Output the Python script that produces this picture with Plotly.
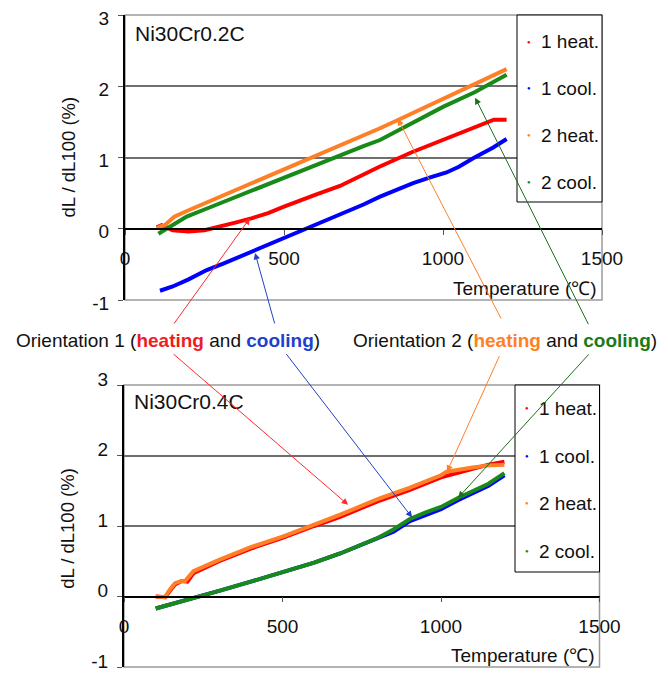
import plotly.graph_objects as go

# ---------------- data ----------------
# Ni30Cr0.2C (top)
top_h1_T = [100, 115, 150, 200, 250, 300, 350, 400, 450, 500, 550, 600, 676, 750, 800, 900, 1000, 1064, 1100, 1160, 1200]
top_h1_v = [0.02, 0.05, -0.02, -0.04, -0.02, 0.03, 0.09, 0.15, 0.22, 0.31, 0.40, 0.48, 0.60, 0.76, 0.87, 1.07, 1.25, 1.36, 1.43, 1.53, 1.53]
top_c1_T = [110, 150, 200, 257, 309, 362, 414, 466, 519, 550, 600, 676, 750, 802, 850, 906, 960, 1011, 1050, 1095, 1158, 1200]
top_c1_v = [-0.87, -0.81, -0.71, -0.58, -0.49, -0.39, -0.30, -0.20, -0.10, -0.04, 0.06, 0.20, 0.34, 0.45, 0.54, 0.64, 0.72, 0.79, 0.87, 0.99, 1.14, 1.26]
top_h2_T = [100, 110, 125, 140, 155, 200, 300, 400, 500, 600, 676, 750, 802, 860, 950, 1011, 1116, 1200]
top_h2_v = [0.00, 0.03, 0.05, 0.12, 0.17, 0.26, 0.45, 0.64, 0.83, 1.03, 1.17, 1.31, 1.41, 1.53, 1.72, 1.85, 2.07, 2.24]
top_c2_T = [105, 130, 160, 194, 250, 300, 400, 500, 600, 676, 750, 802, 900, 1000, 1101, 1150, 1200]
top_c2_v = [-0.07, 0.00, 0.09, 0.17, 0.27, 0.36, 0.54, 0.72, 0.90, 1.035, 1.16, 1.245, 1.48, 1.71, 1.92, 2.04, 2.16]

# Ni30Cr0.4C (bottom)
bot_h1_T = [100, 130, 145, 161, 182, 200, 219, 300, 400, 500, 600, 682, 800, 900, 1000, 1100, 1150, 1200]
bot_h1_v = [0.00, -0.01, 0.08, 0.17, 0.22, 0.21, 0.33, 0.50, 0.68, 0.83, 1.00, 1.13, 1.35, 1.51, 1.69, 1.81, 1.87, 1.91]
bot_c1_T = [100, 150, 219, 300, 400, 500, 600, 682, 750, 800, 850, 902, 950, 1000, 1055, 1100, 1150, 1200]
bot_c1_v = [-0.17, -0.11, -0.02, 0.08, 0.21, 0.345, 0.48, 0.61, 0.73, 0.82, 0.92, 1.07, 1.16, 1.24, 1.37, 1.46, 1.57, 1.72]
bot_h2_T = [100, 129, 145, 161, 182, 193, 219, 300, 400, 500, 600, 682, 800, 871, 900, 1000, 1018, 1100, 1150, 1200]
bot_h2_v = [0.00, -0.01, 0.10, 0.19, 0.22, 0.22, 0.36, 0.52, 0.70, 0.85, 1.02, 1.16, 1.38, 1.49, 1.54, 1.72, 1.77, 1.83, 1.86, 1.87]
bot_c2_T = [100, 150, 219, 300, 400, 500, 600, 682, 750, 800, 850, 902, 950, 1000, 1055, 1100, 1150, 1200]
bot_c2_v = [-0.17, -0.11, -0.02, 0.08, 0.21, 0.345, 0.48, 0.61, 0.74, 0.83, 0.95, 1.10, 1.19, 1.27, 1.40, 1.49, 1.60, 1.75]

series_names = ["1 heat.", "1 cool.", "2 heat.", "2 cool."]
x_ticks = [0, 500, 1000, 1500]
y_ticks = [-1, 0, 1, 2, 3]
chart_titles = ["Ni30Cr0.2C", "Ni30Cr0.4C"]
x_title = "Temperature (\u2103)"
y_title = "dL / dL100 (%)"

# arrow tips in data coordinates: (T, value) and tail offsets in pixels
top_arrows = [(393, 0.15, -77, 107), (409, -0.34, 20, 72), (858, 1.54, 104, 201), (1101, 1.84, 114, 228)]
bot_arrows = [(707, 1.30, -176, -152), (909, 1.12, -127, -165), (1019, 1.77, 53, -117), (1054, 1.40, 132, -145)]

# ---------------- styling ----------------
PAGE_W, PAGE_H = 668, 673
OFF = 8                      # page body margin in the browser
W, H = PAGE_W - OFF, PAGE_H - OFF
FONT = "Arial, Liberation Sans, sans-serif"
COLORS = ["#ff0000", "#0000ff", "#ff7f27", "#178a17"]
ARROW_COLORS = ["#ff2a2a", "#2340c8", "#ff7f27", "#1e6e1e"]


def fx(px):
    return (px - OFF) / W


def fy(py):
    return 1 - (py - OFF) / H


top_dx = [fx(125), fx(602)]
top_dy = [fy(300), fy(15)]
bot_dx = [fx(124), fx(599.5)]
bot_dy = [fy(667), fy(385)]
y_range = [-1, 3]

# legend boxes (page pixels): left, right, top, bottom ; item centres
legend_boxes = [(517, 602, 15, 202, [42, 88, 135, 182]),
                (515, 599.5, 385, 572, [408, 456, 503, 551])]


def zero_pos(dom):
    return dom[0] + (0 - y_range[0]) / (y_range[1] - y_range[0]) * (dom[1] - dom[0])


fig = go.Figure()

top_data = [(top_h1_T, top_h1_v), (top_c1_T, top_c1_v), (top_h2_T, top_h2_v), (top_c2_T, top_c2_v)]
bot_data = [(bot_h1_T, bot_h1_v), (bot_c1_T, bot_c1_v), (bot_h2_T, bot_h2_v), (bot_c2_T, bot_c2_v)]

for i, (T, v) in enumerate(top_data):
    fig.add_trace(go.Scatter(x=T, y=v, mode="lines", name=series_names[i],
                             line=dict(color=COLORS[i], width=4),
                             xaxis="x", yaxis="y", showlegend=False, hoverinfo="skip"))
for i, (T, v) in enumerate(bot_data):
    fig.add_trace(go.Scatter(x=T, y=v, mode="lines", name=series_names[i],
                             line=dict(color=COLORS[i], width=4),
                             xaxis="x2", yaxis="y2", showlegend=False, hoverinfo="skip"))

axis_font = dict(family=FONT, size=19, color="#111")


def xaxis(dom, ydom):
    return dict(domain=dom, range=[0, 1500], tickvals=x_ticks, ticktext=[str(t) for t in x_ticks],
                showgrid=False, zeroline=False, showline=True, linecolor="black", linewidth=1.5,
                ticks="outside", ticklen=5, tickcolor="#555", tickfont=axis_font,
                anchor="free", position=zero_pos(ydom), ticklabelstandoff=8,
                ticklabeloverflow="allow", automargin=False, fixedrange=True)


def yaxis(dom, anchor, shift):
    return dict(domain=dom, range=y_range, tickvals=y_ticks, ticktext=[str(t) for t in y_ticks],
                showgrid=True, gridcolor="#6e6e6e", gridwidth=1.5, zeroline=False,
                showline=True, linecolor="black", linewidth=2, ticks="outside", ticklen=5,
                tickcolor="#555", tickfont=axis_font, anchor=anchor, ticklabelstandoff=5,
                ticklabelshift=shift, ticklabeloverflow="allow", automargin=False, fixedrange=True)


annotations = []
shapes = []
for k, (xref, yref, arrows, tx_y) in enumerate([
        ("x", "y", top_arrows, 0.042),
        ("x2", "y2", bot_arrows, 0.040)]):
    # grey plot-area border
    shapes.append(dict(type="rect", xref=xref + " domain", yref=yref + " domain", x0=0, x1=1, y0=0, y1=1,
                       line=dict(color="#9a9a9a", width=1.5), layer="below"))
    annotations.append(dict(text=chart_titles[k], xref=xref + " domain", yref=yref + " domain",
                            x=0.016, y=0.935 if k == 0 else 0.94, xanchor="left", yanchor="middle",
                            showarrow=False, font=dict(family=FONT, size=21, color="#111")))
    annotations.append(dict(text=x_title, xref=xref + " domain", yref=yref + " domain",
                            x=0.994, y=tx_y, xanchor="right", yanchor="middle",
                            showarrow=False, font=dict(family=FONT, size=19, color="#111")))
    annotations.append(dict(text=y_title, xref="paper", yref=yref + " domain", x=fx(68),
                            y=0.5 if k == 0 else 0.49,
                            xanchor="center", yanchor="middle", textangle=-90, showarrow=False,
                            font=dict(family=FONT, size=18.5, color="#111")))
    # legend box drawn as a framed white panel with coloured dots
    lx0, lx1, ly0, ly1, rows = legend_boxes[k]
    shapes.append(dict(type="rect", xref="paper", yref="paper", x0=fx(lx0), x1=fx(lx1),
                       y0=fy(ly1), y1=fy(ly0), fillcolor="white",
                       line=dict(color="black", width=1), layer="above"))
    for i, name in enumerate(series_names):
        annotations.append(dict(text="\u25cf", xref="paper", yref="paper", x=fx(lx0 + 12),
                                y=fy(rows[i]), xanchor="center", yanchor="middle", showarrow=False,
                                font=dict(family=FONT, size=6, color=COLORS[i])))
        annotations.append(dict(text=name, xref="paper", yref="paper", x=fx(lx0 + 22),
                                y=fy(rows[i]), xanchor="left", yanchor="middle", showarrow=False,
                                font=dict(family=FONT, size=19, color="#111")))
    for i, (tx, ty, ax, ay) in enumerate(arrows):
        annotations.append(dict(x=tx, y=ty, xref=xref, yref=yref, ax=ax, ay=ay, axref="pixel", ayref="pixel",
                                showarrow=True, arrowhead=2, arrowsize=1.3, arrowwidth=1,
                                arrowcolor=ARROW_COLORS[i], text=""))

lab1 = ("Orientation 1 (<b><span style='color:#ee1c24'>heating</span></b> and "
        "<b><span style='color:#1f3fcc'>cooling</span></b>)")
lab2 = ("Orientation 2 (<b><span style='color:#ff7f27'>heating</span></b> and "
        "<b><span style='color:#1a7a1a'>cooling</span></b>)")
annotations.append(dict(text=lab1, xref="paper", yref="paper", x=fx(168), y=fy(340),
                        xanchor="center", yanchor="middle", showarrow=False,
                        font=dict(family=FONT, size=19, color="#111")))
annotations.append(dict(text=lab2, xref="paper", yref="paper", x=fx(505), y=fy(340),
                        xanchor="center", yanchor="middle", showarrow=False,
                        font=dict(family=FONT, size=19, color="#111")))

fig.update_layout(
    width=W, height=H, margin=dict(l=0, r=0, t=0, b=0, autoexpand=False),
    paper_bgcolor="white", plot_bgcolor="white", showlegend=False,
    font=dict(family=FONT, size=18, color="#111"),
    xaxis=xaxis(top_dx, top_dy), yaxis=yaxis(top_dy, "x", 3),
    xaxis2=xaxis(bot_dx, bot_dy), yaxis2=yaxis(bot_dy, "x2", -6),
    annotations=annotations, shapes=shapes,
)

fig.write_html("out.html")
